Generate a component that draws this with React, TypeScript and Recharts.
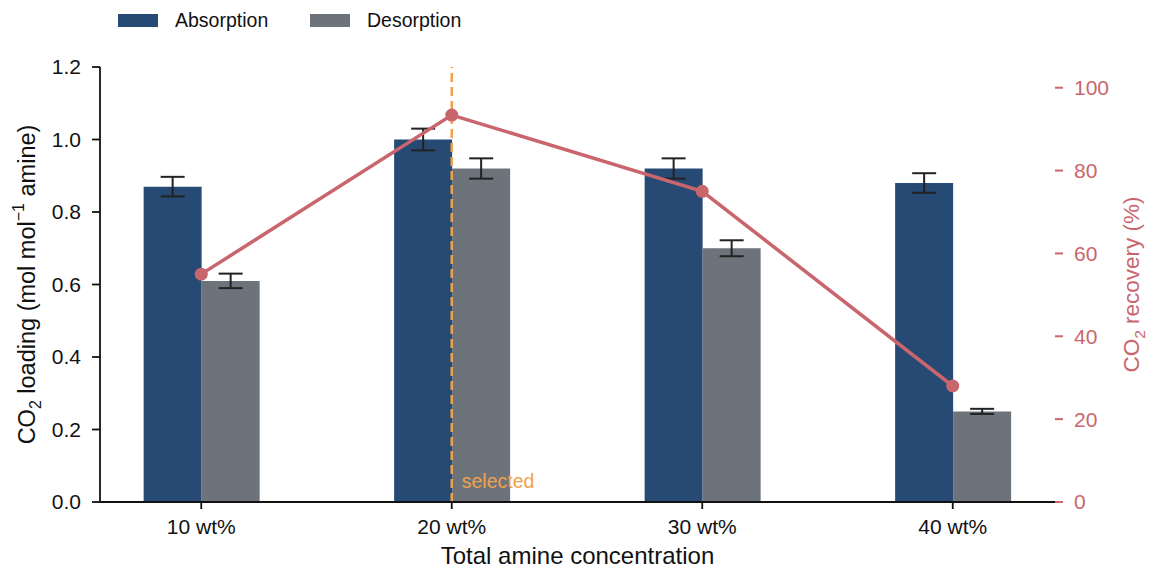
import React from 'react';
import { ComposedChart, Bar, Line, XAxis, YAxis, ErrorBar, ReferenceLine, Legend } from 'recharts';

const categories = ['10 wt%', '20 wt%', '30 wt%', '40 wt%'];
const absorption = [0.87, 1.0, 0.92, 0.88];
const absorptionErr = [0.027, 0.03, 0.028, 0.027];
const desorption = [0.61, 0.92, 0.7, 0.25];
const desorptionErr = [0.02, 0.028, 0.022, 0.007];
const recovery = [55, 93.4, 75, 28];
const loadingTicks = [0, 0.2, 0.4, 0.6, 0.8, 1.0, 1.2];
const recoveryTicks = [0, 20, 40, 60, 80, 100];

const data = categories.map((cat, i) => ({
  cat,
  absorption: absorption[i],
  absErr: absorptionErr[i],
  desorption: desorption[i],
  desErr: desorptionErr[i],
  recovery: recovery[i],
}));

const FONT = '"Liberation Sans", Arial, sans-serif';
const BLUE = '#264a73';
const GREY = '#6c737b';
const RED = '#c9666d';
const ORANGE = '#f0a24a';

const LeftLabel = (props: any) => {
  const { viewBox } = props;
  const cx = 27;
  const cy = viewBox.y + viewBox.height / 2;
  return (
    <text x={cx} y={cy} transform={`rotate(-90, ${cx}, ${cy})`} textAnchor="middle" dominantBaseline="central" fontSize={23.5} fill="#111" fontFamily={FONT}>
      CO<tspan baselineShift="sub" fontSize={16}>2</tspan> loading (mol mol<tspan baselineShift="super" fontSize={16}>−1</tspan> amine)
    </text>
  );
};

const RightLabel = (props: any) => {
  const { viewBox } = props;
  const cx = 1131;
  const cy = viewBox.y + viewBox.height / 2;
  return (
    <text x={cx} y={cy} transform={`rotate(-90, ${cx}, ${cy})`} textAnchor="middle" dominantBaseline="central" fontSize={22.5} fill={RED} fontFamily={FONT}>
      CO<tspan baselineShift="sub" fontSize={15.5}>2</tspan> recovery (%)
    </text>
  );
};

const BottomLabel = (props: any) => {
  const { viewBox } = props;
  return (
    <text x={viewBox.x + viewBox.width / 2} y={564} textAnchor="middle" fontSize={24} fill="#111" fontFamily={FONT}>
      Total amine concentration
    </text>
  );
};

const SelectedLabel = (props: any) => {
  const { viewBox } = props;
  return (
    <text x={viewBox.x + 10} y={viewBox.y + viewBox.height - 14} fontSize={19.5} fill={ORANGE} fontFamily={FONT}>
      selected
    </text>
  );
};

const LegendContent = (props: any) => {
  const items = (props.payload || []).filter((p: any) => p.type !== 'none');
  return (
    <div style={{ position: 'relative', height: 40, fontFamily: FONT }}>
      {items.map((p: any, i: number) => (
        <div key={p.value} style={{ position: 'absolute', left: 118 + i * 192, top: 14, display: 'flex', alignItems: 'center', whiteSpace: 'nowrap' }}>
          <span style={{ display: 'inline-block', width: 40, height: 13, background: p.color }} />
          <span style={{ marginLeft: 17, fontSize: 19.5, lineHeight: '13px', color: '#111' }}>{p.value}</span>
        </div>
      ))}
    </div>
  );
};

export default function App() {
  return (
    <div style={{ position: 'absolute', left: 0, top: 0, width: 1159, height: 577, background: '#fff' }}>
      <ComposedChart
        width={1159}
        height={577}
        data={data}
        margin={{ top: 67, right: 24, bottom: 15, left: 20 }}
        barCategoryGap="27%"
        barGap={0}
      >
        <XAxis
          dataKey="cat"
          padding={{ left: -24, right: -23 }}
          height={60}
          axisLine={{ stroke: '#111', strokeWidth: 1.8 }}
          tickLine={{ stroke: '#111', strokeWidth: 1.8 }}
          tickSize={7}
          tickMargin={10}
          tick={{ fill: '#111', fontSize: 21, fontFamily: FONT }}
          label={<BottomLabel />}
        />
        <YAxis
          yAxisId="left"
          domain={[0, 1.2]}
          ticks={loadingTicks}
          tickFormatter={(v: number) => v.toFixed(1)}
          width={80}
          axisLine={{ stroke: '#111', strokeWidth: 1.8 }}
          tickLine={{ stroke: '#111', strokeWidth: 1.8 }}
          tickSize={8}
          tickMargin={11}
          tick={{ fill: '#111', fontSize: 21, fontFamily: FONT }}
          label={<LeftLabel />}
        />
        <YAxis
          yAxisId="right"
          orientation="right"
          domain={[0, 105]}
          ticks={recoveryTicks}
          width={80}
          axisLine={false}
          tickLine={{ stroke: RED, strokeWidth: 2 }}
          tickSize={8}
          tickMargin={11}
          tick={{ fill: RED, fontSize: 21, fontFamily: FONT }}
          label={<RightLabel />}
        />
        <Legend
          layout="horizontal"
          verticalAlign="middle"
          align="center"
          wrapperStyle={{ top: 0, left: 0, width: 500, height: 40 }}
          content={<LegendContent />}
        />
        <Bar yAxisId="left" dataKey="absorption" name="Absorption" fill={BLUE} isAnimationActive={false}>
          <ErrorBar dataKey="absErr" width={12} strokeWidth={2} stroke="#222" />
        </Bar>
        <Bar yAxisId="left" dataKey="desorption" name="Desorption" fill={GREY} isAnimationActive={false}>
          <ErrorBar dataKey="desErr" width={12} strokeWidth={2} stroke="#222" />
        </Bar>
        <ReferenceLine
          yAxisId="left"
          x="20 wt%"
          stroke={ORANGE}
          strokeWidth={2.5}
          strokeDasharray="9 5"
          label={<SelectedLabel />}
        />
        <Line
          yAxisId="right"
          dataKey="recovery"
          stroke={RED}
          strokeWidth={3.5}
          dot={{ r: 6.5, fill: RED, stroke: RED, strokeWidth: 0 }}
          legendType="none"
          isAnimationActive={false}
        />
      </ComposedChart>
    </div>
  );
}
